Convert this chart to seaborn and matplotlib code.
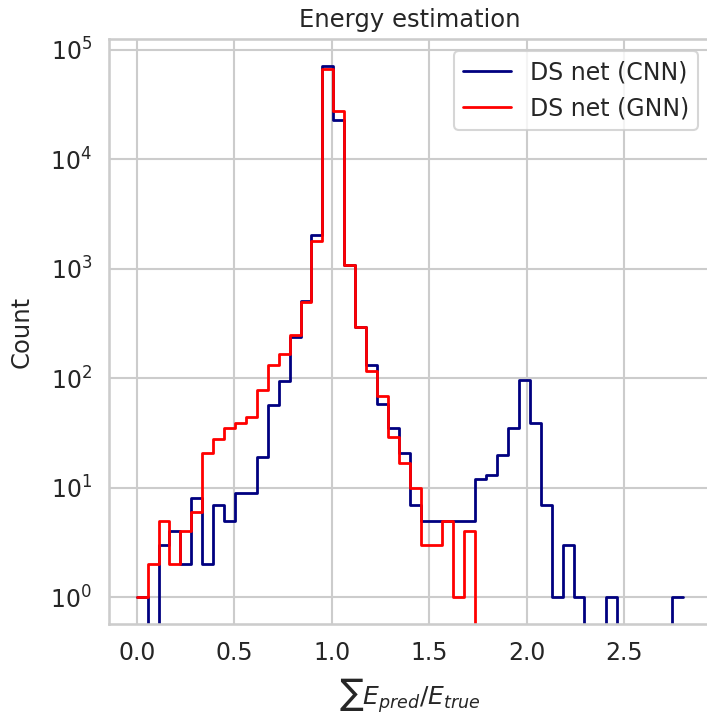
import numpy as np
import pandas as pd
import matplotlib
matplotlib.use("Agg")
import matplotlib.pyplot as plt
import seaborn as sns

# 50 common bins over [0, 2.8]
n_bins = 50
x_max = 2.8

cnn_counts = [1, 0, 3, 4, 2, 8, 2, 7, 5, 9,
              9, 19, 57, 95, 240, 510, 2030, 71500, 23000, 1090,
              294, 132, 58, 35, 21, 7, 5, 5, 5, 5,
              5, 12, 13, 20, 35, 97, 39, 7, 1, 3,
              1, 0, 0, 1, 0, 0, 0, 0, 0, 1]
gnn_counts = [1, 2, 5, 2, 4, 6, 21, 28, 35, 39,
              44, 78, 132, 168, 247, 501, 1790, 67600, 27800, 1090,
              294, 117, 69, 29, 17, 10, 3, 3, 5, 1,
              4, 0, 0, 0, 0, 0, 0, 0, 0, 0,
              0, 0, 0, 0, 0, 0, 0, 0, 0, 0]
labels = ["DS net (CNN)", "DS net (GNN)"]
colors = ["navy", "red"]

edges = np.linspace(0, x_max, n_bins + 1)
centers = (edges[:-1] + edges[1:]) / 2

sns.set_theme(style="whitegrid", context="talk")
plt.rcParams["font.size"] = 17.5

fig = plt.figure(figsize=(7.07, 7.18), dpi=100)
ax = fig.add_axes([109.4 / 707, 94 / 718, (710 - 109.4) / 707, (624 - 39.3) / 718])

for counts, label, color in zip([cnn_counts, gnn_counts], labels, colors):
    df = pd.DataFrame({"ratio": centers, "n": counts})
    sns.histplot(data=df, x="ratio", weights="n", bins=n_bins, binrange=(0, x_max),
                 element="step", fill=False, color=color, linewidth=2,
                 label=label, ax=ax)

ax.set_yscale("log")
ax.set_ylim(0.57, 1.25e5)
ax.set_xlim(-0.14, 2.94)
ax.set_xticks([0.0, 0.5, 1.0, 1.5, 2.0, 2.5])
ax.set_title("Energy estimation", fontsize=17.5, pad=9)
ax.set_xlabel(r"$\sum E_{pred}/E_{true}$", fontsize=18, labelpad=8)
ax.set_ylabel("Count", fontsize=17.5, labelpad=12)
ax.tick_params(labelsize=17)
ax.legend(loc="upper right", fontsize=17)

fig.savefig("out.png", dpi=100)
